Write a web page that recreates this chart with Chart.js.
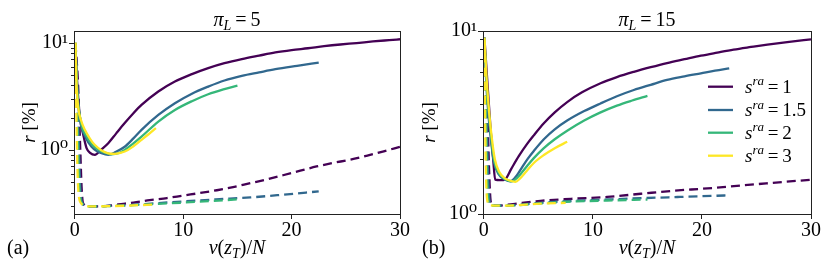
<!DOCTYPE html>
<html>
<head>
<meta charset="utf-8">
<script src="https://cdn.jsdelivr.net/npm/chart.js@4/dist/chart.umd.min.js"></script>
<style>
  body { margin: 0; background: #fff; }
  .panel { position: absolute; top: 0; width: 415px; height: 272px; }
</style>
</head>
<body>
<div class="panel" style="left:0"><canvas id="pa" width="415" height="272"></canvas></div>
<div class="panel" style="left:415px"><canvas id="pb" width="415" height="272"></canvas></div>
<script>
// series colours + legend labels (s^ra values)
const colors = ['#440154', '#31688e', '#35b779', '#fde725'];
const sraValues = ['1', '1.5', '2', '3'];

// tick values
const xTicks = [0, 10, 20, 30];
const aYTicks = [0.3, 0.4, 0.5, 0.6, 0.7, 0.8, 0.9, 1, 2, 3, 4, 5, 6, 7, 8, 9, 10];
const bYTicks = [1, 2, 3, 4, 5, 6, 7, 8, 9, 10];

// panel (a), pi_L = 5 : solid curves
const aSolid1X = [0.05,0.2,0.46,0.8,1.08,1.4,1.85,2.4,3.08,3.8,4.6,5.4,6.15,7.7,9.23,10.8,12.3,13.8,15.4,17,18.5,20,21.5,23,24.5,26,27.5,29,30];
const aSolid1Y = [9.5,4.5,2.05,1.35,1.04,0.94,0.90,1.0,1.155,1.42,1.78,2.2,2.63,3.51,4.35,5.1,5.8,6.45,7.05,7.6,8.13,8.55,8.9,9.3,9.65,9.95,10.3,10.6,10.8];
const aSolid2X = [0.05,0.15,0.3,0.6,1.0,1.54,2.0,2.46,3.08,3.8,4.6,5.4,6.15,7.7,9.23,10.8,12.3,13.8,15.4,17,18.5,20.5,22.5];
const aSolid2Y = [9.5,5.0,2.7,1.65,1.3,1.07,0.98,0.93,0.90,0.96,1.07,1.28,1.54,2.12,2.73,3.35,3.9,4.45,4.92,5.3,5.67,6.1,6.54];
const aSolid3X = [0.05,0.15,0.3,0.6,1.0,1.6,2.2,2.8,3.4,4.0,4.6,5.4,6.15,7.7,9.23,10.8,12.3,13.7,15];
const aSolid3Y = [9.5,5.0,2.8,1.72,1.38,1.12,1.0,0.94,0.91,0.93,1.0,1.15,1.33,1.84,2.36,2.85,3.31,3.68,3.99];
const aSolid4X = [0.05,0.15,0.3,0.6,0.92,1.4,1.85,2.4,3.08,3.7,4.2,4.6,5.4,6.15,6.8,7.48];
const aSolid4Y = [10,4.2,2.54,1.85,1.54,1.27,1.11,1.0,0.93,0.92,0.94,0.965,1.08,1.24,1.4,1.6];
// panel (a) : dashed curves
const aDash1X = [0.05,0.3,0.5,0.62,0.75,1.2,2,3,4,5.4,6.9,8.5,10,11.5,13.1,14.6,16.2,17.7,19.2,20.8,22.3,23.8,25.4,26.9,28.5,30];
const aDash1Y = [10,4,1.0,0.45,0.32,0.297,0.297,0.30,0.31,0.322,0.34,0.355,0.375,0.395,0.42,0.45,0.49,0.53,0.58,0.64,0.70,0.755,0.81,0.88,0.97,1.07];
const aDash2X = [0.05,0.2,0.38,0.5,0.68,1.2,2,3,5,7,10,13,16.2,19,22.5];
const aDash2Y = [10,4,1.0,0.45,0.32,0.297,0.297,0.30,0.305,0.315,0.33,0.345,0.36,0.38,0.41];
const aDash3X = [0.05,0.15,0.3,0.42,0.62,1.2,2,3,5,6.9,10,12.5,15];
const aDash3Y = [10,4,1.0,0.45,0.32,0.297,0.297,0.298,0.303,0.31,0.322,0.333,0.345];
const aDash4X = [0.05,0.1,0.2,0.3,0.55,1.2,2,3,5,7.5];
const aDash4Y = [10,4,1.0,0.45,0.32,0.297,0.297,0.298,0.302,0.31];

// panel (b), pi_L = 15 : solid curves
const bSolid1X = [0.05,0.3,0.6,0.85,1.04,1.5,1.96,2.5,3.2,4.0,4.58,5.5,6.5,7.64,9.0,10.7,12.2,13.75,15.3,16.8,18.4,19.9,21.4,22.9,24.5,26,28,30];
const bSolid1Y = [9.2,5.5,3.0,2.0,1.54,1.53,1.55,1.76,2.07,2.43,2.69,3.13,3.59,4.09,4.62,5.18,5.6,5.98,6.34,6.68,7.01,7.33,7.62,7.91,8.18,8.43,8.73,9.0];
const bSolid2X = [0.05,0.2,0.4,0.6,0.9,1.35,1.96,2.45,3.0,3.5,4.0,4.58,5.5,6.5,7.64,9.2,10.7,12.2,13.75,15.3,16.8,18.4,19.9,21.2,22.5];
const bSolid2Y = [9.2,5.5,3.6,2.7,1.95,1.65,1.54,1.51,1.62,1.80,1.995,2.21,2.56,2.90,3.24,3.65,4.02,4.4,4.76,5.08,5.4,5.65,5.87,6.07,6.25];
const bSolid3X = [0.05,0.22,0.45,0.65,0.95,1.4,1.96,2.6,3.0,3.5,4.0,4.58,5.5,6.5,7.64,9.2,10.7,12.2,13.6,15];
const bSolid3Y = [9.2,5.5,3.6,2.7,1.95,1.66,1.55,1.51,1.567,1.69,1.84,2.02,2.29,2.56,2.85,3.24,3.59,3.91,4.17,4.42];
const bSolid4X = [0.05,0.25,0.5,0.73,1.0,1.4,1.96,2.6,2.9,3.3,3.82,4.58,5.5,6.5,7.64];
const bSolid4Y = [9.2,5.5,3.5,2.6,2.0,1.7,1.56,1.51,1.5,1.56,1.69,1.9,2.1,2.29,2.48];
// panel (b) : dashed curves
const bDash1X = [0.05,0.3,0.5,0.62,0.8,1.2,2,3.5,5.2,8,11.3,14.4,17.4,20.5,23.5,26.5,30];
const bDash1Y = [9,4,1.6,1.18,1.115,1.11,1.12,1.15,1.18,1.21,1.24,1.29,1.34,1.38,1.43,1.48,1.54];
const bDash2X = [0.05,0.22,0.4,0.52,0.7,1.2,2,5,8.3,11.3,14.4,18,22.5];
const bDash2Y = [9,4,1.6,1.18,1.115,1.11,1.11,1.15,1.18,1.2,1.22,1.24,1.265];
const bDash3X = [0.05,0.16,0.3,0.42,0.62,1.2,2,5,8.3,11.3,15];
const bDash3Y = [9,4,1.6,1.18,1.115,1.11,1.11,1.14,1.17,1.185,1.2];
const bDash4X = [0.05,0.1,0.2,0.3,0.55,1.2,2,5.2,7.5];
const bDash4Y = [9,4,1.6,1.2,1.115,1.11,1.11,1.14,1.15];

const SERIF = '"Liberation Serif", "DejaVu Serif", serif';

function pts(xs, ys) {
  return xs.map((x, i) => ({ x: x, y: ys[i] }));
}

function buildSets(solids, dashes) {
  const sets = [];
  for (let k = 0; k < 4; k++) {
    sets.push({
      data: pts(solids[k][0], solids[k][1]),
      borderColor: colors[k], borderWidth: 2.3,
      pointRadius: 0, cubicInterpolationMode: 'monotone',
      order: 8 - 2 * k
    });
    sets.push({
      data: pts(dashes[k][0], dashes[k][1]),
      borderColor: colors[k], borderWidth: 2.3, borderDash: [9, 5],
      pointRadius: 0, cubicInterpolationMode: 'monotone',
      order: 7 - 2 * k
    });
  }
  return sets;
}

// draw text made of pieces: [text, style], style in r, i, isub, isup
function richText(ctx, parts, x, y, size, align) {
  const fontOf = (st) => {
    const small = st === 'isub' || st === 'isup';
    const it = st !== 'r';
    return (it ? 'italic ' : '') + (small ? Math.round(size * 0.7) : size) + 'px ' + SERIF;
  };
  let total = 0;
  parts.forEach(p => { ctx.font = fontOf(p[1]); total += ctx.measureText(p[0]).width; });
  let cx = align === 'center' ? x - total / 2 : (align === 'right' ? x - total : x);
  ctx.textAlign = 'left';
  ctx.textBaseline = 'alphabetic';
  parts.forEach(p => {
    ctx.font = fontOf(p[1]);
    let dy = 0;
    if (p[1] === 'isub') dy = size * 0.22;
    if (p[1] === 'isup') dy = -size * 0.38;
    ctx.fillText(p[0], cx, y + dy);
    cx += ctx.measureText(p[0]).width;
  });
}

const decor = {
  id: 'decor',
  afterDraw(chart, args, o) {
    const ctx = chart.ctx;
    const ca = chart.chartArea;
    const ys = chart.scales.y;
    ctx.save();
    ctx.fillStyle = '#000';
    ctx.strokeStyle = '#222';
    ctx.lineWidth = 1;
    // frame
    ctx.strokeRect(Math.round(ca.left) + 0.5, Math.round(ca.top) + 0.5,
      Math.round(ca.right - ca.left), Math.round(ca.bottom - ca.top));
    // y tick marks, major and minor
    o.yTicks.forEach(v => {
      const py = Math.round(ys.getPixelForValue(v)) + 0.5;
      const major = Math.abs(Math.log10(v) - Math.round(Math.log10(v))) < 1e-9;
      const len = major ? 5 : 3;
      ctx.beginPath();
      ctx.moveTo(Math.round(ca.left) - len, py);
      ctx.lineTo(Math.round(ca.left), py);
      ctx.stroke();
    });
    const mx = (ca.left + ca.right) / 2;
    richText(ctx, o.title, mx, 26, 20, 'center');
    richText(ctx, [['\u03bd', 'i'], ['(', 'r'], ['z', 'i'], ['T', 'isub'], [')/', 'r'], ['N', 'i']], mx, 254, 20, 'center');
    richText(ctx, [[o.tag, 'r']], 7, 254, 20, 'left');
    ctx.save();
    ctx.translate(o.ylabelX, (ca.top + ca.bottom) / 2);
    ctx.rotate(-Math.PI / 2);
    richText(ctx, [['r', 'i'], [' [%]', 'r']], 0, 0, 19, 'center');
    ctx.restore();
    if (o.legend) {
      const rows = [86.7, 110, 132.7, 155.7];
      for (let k = 0; k < 4; k++) {
        ctx.strokeStyle = colors[k];
        ctx.lineWidth = 2.3;
        ctx.beginPath();
        ctx.moveTo(293, rows[k]);
        ctx.lineTo(318, rows[k]);
        ctx.stroke();
        richText(ctx, [['s', 'i'], ['ra', 'isup'], ['\u2009=\u2009' + sraValues[k], 'r']], 330, rows[k] + 6, 19, 'left');
      }
    }
    ctx.restore();
  }
};

function makeChart(id, sets, yMin, yMax, yTicks, yWidth, padRight, deco) {
  return new Chart(document.getElementById(id).getContext('2d'), {
    type: 'line',
    data: { datasets: sets },
    options: {
      responsive: false,
      animation: false,
      devicePixelRatio: 1,
      layout: { padding: { top: 31, right: padRight, bottom: 0, left: 0 } },
      scales: {
        x: {
          type: 'linear', min: -0.08, max: 30,
          afterBuildTicks: (s) => { s.ticks = xTicks.map(v => ({ value: v })); },
          afterFit: (s) => { s.height = 58; },
          grid: { display: true, drawOnChartArea: false, tickLength: 5, color: '#222' },
          border: { display: false },
          ticks: { padding: 0, color: '#000', font: { family: SERIF, size: 20 }, maxRotation: 0 }
        },
        y: {
          type: 'logarithmic', min: yMin, max: yMax,
          afterBuildTicks: (s) => { s.ticks = yTicks.map(v => ({ value: v })); },
          afterFit: (s) => { s.width = yWidth; },
          grid: { display: true, drawOnChartArea: false, tickLength: 5, tickColor: 'rgba(0,0,0,0)' },
          border: { display: false },
          ticks: {
            autoSkip: false, padding: 1, color: '#000',
            font: { family: SERIF, size: 20 },
            callback: (v) => v === 10 ? '10\u00b9' : (v === 1 ? '10\u2070' : '')
          }
        }
      },
      plugins: {
        legend: { display: false },
        tooltip: { enabled: false },
        decor: deco
      }
    },
    plugins: [decor]
  });
}

const chartA = makeChart('pa',
  buildSets([[aSolid1X, aSolid1Y], [aSolid2X, aSolid2Y], [aSolid3X, aSolid3Y], [aSolid4X, aSolid4Y]],
            [[aDash1X, aDash1Y], [aDash2X, aDash2Y], [aDash3X, aDash3Y], [aDash4X, aDash4Y]]),
  0.252, 12.9, aYTicks, 74, 15,
  { title: [['\u03c0', 'i'], ['L', 'isub'], ['\u2009=\u20095', 'r']], tag: '(a)', ylabelX: 35, yTicks: aYTicks, legend: false });

const chartB = makeChart('pb',
  buildSets([[bSolid1X, bSolid1Y], [bSolid2X, bSolid2Y], [bSolid3X, bSolid3Y], [bSolid4X, bSolid4Y]],
            [[bDash1X, bDash1Y], [bDash2X, bDash2Y], [bDash3X, bDash3Y], [bDash4X, bDash4Y]]),
  1, 10, bYTicks, 68, 19,
  { title: [['\u03c0', 'i'], ['L', 'isub'], ['\u2009=\u200915', 'r']], tag: '(b)', ylabelX: 20, yTicks: bYTicks, legend: true });
</script>
</body>
</html>
